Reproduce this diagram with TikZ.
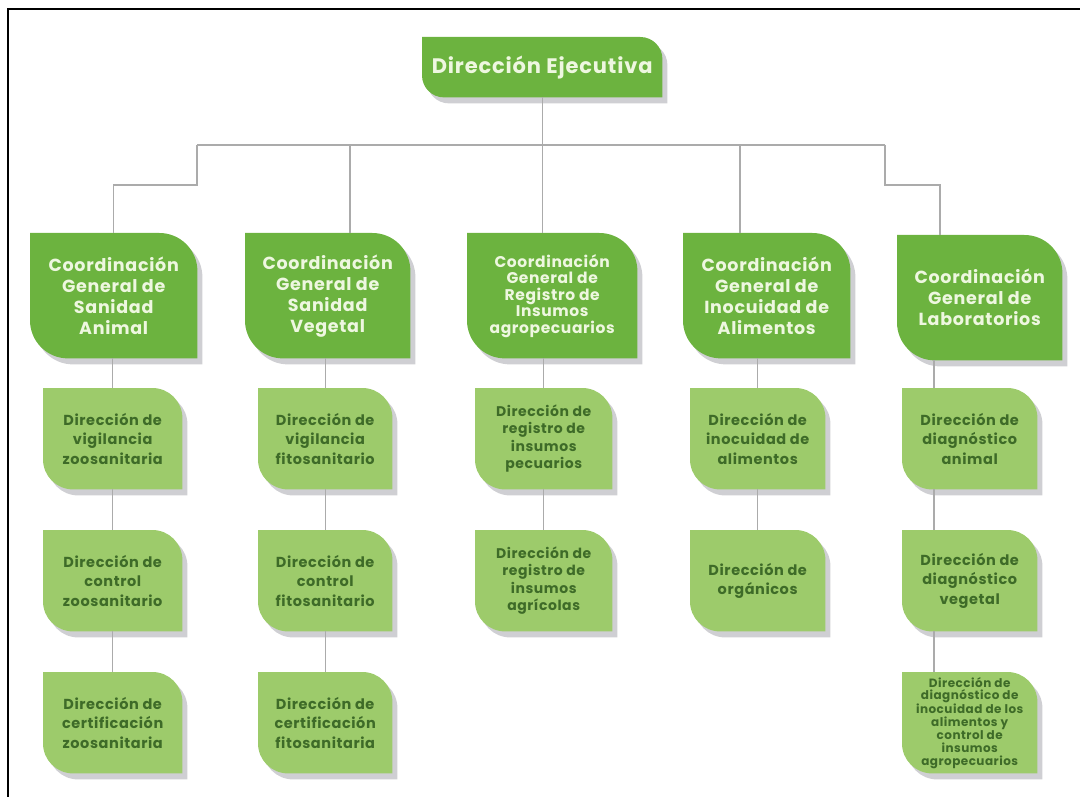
\documentclass[tikz,border=0pt]{standalone}
\usepackage{fontspec}
\setmainfont{Poppins}[LetterSpace=4]
\usetikzlibrary{calc,backgrounds}

\definecolor{darkleaf}{HTML}{6CB33F}
\definecolor{lightleaf}{HTML}{9DCB6B}
\definecolor{paletext}{HTML}{EEF7E0}
\definecolor{deeptext}{HTML}{3E6B28}
\definecolor{wirecol}{HTML}{ABABAB}
\definecolor{shadecol}{HTML}{CFCFD3}

% leaf outline: rounded top-right and bottom-left corners
\newcommand\leafoutline[2]{(#1.north west) -- ([xshift=-#2]#1.north east)
  arc[start angle=90,end angle=0,radius=#2] -- (#1.south east)
  -- ([xshift=#2]#1.south west) arc[start angle=270,end angle=180,radius=#2] -- cycle}
% shadow plus green body behind a named node
\newcommand\leafbox[3]{%
  \begin{scope}[transform canvas={shift={(5pt,-6pt)}}]
    \fill[shadecol] \leafoutline{#1}{#2};
  \end{scope}
  \fill[#3] \leafoutline{#1}{#2};}

\tikzset{
  x=1pt, y=1pt,
  wire/.style={draw=wirecol, line width=1.3pt},
  topbox/.style={anchor=north west, inner sep=0pt, align=center, text=paletext,
    font=\bfseries\fontsize{21}{24}\selectfont},
  coordbox/.style={anchor=north west, inner sep=0pt, align=center, text=paletext,
    minimum height=125pt, font=\bfseries\fontsize{17.5}{21}\selectfont},
  dirbox/.style={anchor=north west, inner sep=0pt, align=center, text=deeptext,
    minimum width=135pt, minimum height=101pt, font=\bfseries\fontsize{14.5}{19.5}\selectfont},
}

\begin{document}
\begin{tikzpicture}
\useasboundingbox (0,0) rectangle (1080,-797);

% frame
\draw[black, line width=2.6pt] (8,-797) -- (8,-9) -- (1080,-9);

% top
\node[topbox, minimum width=240pt, minimum height=60pt] (top) at (422,-37) {Dirección Ejecutiva};

% coordinations
\node[coordbox, minimum width=167pt] (c1) at (30,-233) {Coordinación\\General de\\Sanidad\\Animal};
\node[coordbox, minimum width=165pt] (c2) at (245,-233) {Coordinación\\General de\\Sanidad\\Vegetal};
\node[coordbox, minimum width=170pt, font=\bfseries\fontsize{15.5}{16.5}\selectfont] (c3) at (467,-233)
  {Coordinación\\General de\\Registro de\\Insumos\\agropecuarios};
\node[coordbox, minimum width=167pt] (c4) at (683,-233) {Coordinación\\General de\\Inocuidad de\\Alimentos};
\node[coordbox, minimum width=165pt] (c5) at (897,-235) {Coordinación\\General de\\Laboratorios};

% directions, column 1
\node[dirbox, minimum width=139pt] (d11) at (43,-388) {Dirección de\\vigilancia\\zoosanitaria};
\node[dirbox, minimum width=139pt] (d12) at (43,-530) {Dirección de\\control\\zoosanitario};
\node[dirbox, minimum width=139pt] (d13) at (43,-672) {Dirección de\\certificación\\zoosanitaria};
% column 2
\node[dirbox, minimum width=134pt] (d21) at (258,-388) {Dirección de\\vigilancia\\fitosanitario};
\node[dirbox, minimum width=134pt] (d22) at (258,-530) {Dirección de\\control\\fitosanitario};
\node[dirbox, minimum width=134pt] (d23) at (258,-672) {Dirección de\\certificación\\fitosanitaria};
% column 3
\node[dirbox, minimum width=137pt, font=\bfseries\fontsize{14}{17.5}\selectfont] (d31) at (475,-388) {Dirección de\\registro de\\insumos\\pecuarios};
\node[dirbox, minimum width=137pt, font=\bfseries\fontsize{14}{17.5}\selectfont] (d32) at (475,-530) {Dirección de\\registro de\\insumos\\agrícolas};
% column 4
\node[dirbox] (d41) at (690,-388) {Dirección de\\inocuidad de\\alimentos};
\node[dirbox] (d42) at (690,-530) {Dirección de\\orgánicos};
% column 5
\node[dirbox] (d51) at (902,-388) {Dirección de\\diagnóstico\\animal};
\node[dirbox] (d52) at (902,-530) {Dirección de\\diagnóstico\\vegetal};
\node[dirbox, font=\bfseries\fontsize{12}{12.8}\selectfont] (d53) at (902,-672)
  {Dirección de\\diagnóstico de\\inocuidad de los\\alimentos y\\control de\\insumos\\agropecuarios};

% bodies
\begin{pgfonlayer}{background}
  \leafbox{top}{22pt}{darkleaf}
  \foreach \n in {c1,c2,c3,c4,c5} {\leafbox{\n}{38pt}{darkleaf}}
  \foreach \n in {d11,d12,d13,d21,d22,d23,d31,d32,d41,d42,d51,d52,d53} {\leafbox{\n}{30pt}{lightleaf}}
\end{pgfonlayer}

% branch points
\coordinate (busL) at (197,-145);
\coordinate (busR) at (885,-145);
\coordinate (kneeL) at (197,-185);
\coordinate (kneeR) at (885,-185);
\coordinate (t2) at (350,-145);
\coordinate (t4) at (740,-145);
\coordinate (t5) at (940,-185);
\coordinate (l5) at (934,0);

% upper connectors
\draw[wire] (top.south) -- (top.south |- c3.north);
\draw[wire] (busL) -- (busR);
\draw[wire] (busL) -- (kneeL) -| (c1.north);
\draw[wire] (t2) -- (t2 |- c2.north);
\draw[wire] (t4) -- (t4 |- c4.north);
\draw[wire] (busR) -- (kneeR) -- (t5) -- (t5 |- c5.north);

% column connectors
\draw[wire] (c1.south -| d11.north) -- (d11.north);
\draw[wire] (d11.south) -- (d12.north);
\draw[wire] (d12.south) -- (d13.north);
\draw[wire] (c2.south -| d21.north) -- (d21.north);
\draw[wire] (d21.south) -- (d22.north);
\draw[wire] (d22.south) -- (d23.north);
\draw[wire] (c3.south -| d31.north) -- (d31.north);
\draw[wire] (d31.south) -- (d32.north);
\draw[wire] (c4.south -| d41.north) -- (d41.north);
\draw[wire] (d41.south) -- (d42.north);
\draw[wire] (c5.south -| l5) -- (d51.north -| l5);
\draw[wire] (d51.south -| l5) -- (d52.north -| l5);
\draw[wire] (d52.south -| l5) -- (d53.north -| l5);
\end{tikzpicture}
\end{document}
